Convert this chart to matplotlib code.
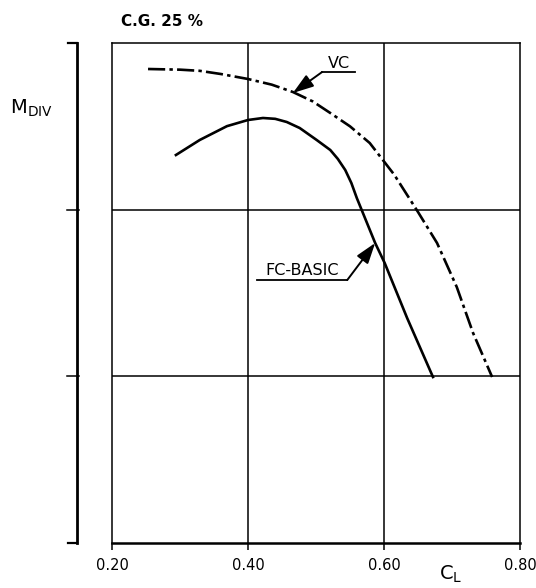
import matplotlib
matplotlib.use("Agg")
import matplotlib.pyplot as plt
from matplotlib.lines import Line2D

plt.rcParams['font.family'] = ['DejaVu Sans']

# Data (y is in grid units: 0 bottom, 3 top)
vc_cl = [0.253, 0.300, 0.329, 0.360, 0.400, 0.435, 0.466, 0.495, 0.521, 0.550, 0.579, 0.615, 0.650, 0.678, 0.707, 0.731, 0.759]
vc_m = [2.844, 2.840, 2.833, 2.814, 2.784, 2.750, 2.706, 2.650, 2.580, 2.500, 2.400, 2.210, 1.986, 1.800, 1.536, 1.260, 0.996]

fc_cl = [0.294, 0.329, 0.369, 0.400, 0.422, 0.440, 0.457, 0.476, 0.501, 0.521, 0.532, 0.543, 0.552, 0.560, 0.587, 0.601, 0.634, 0.672]
fc_m = [2.328, 2.418, 2.501, 2.538, 2.550, 2.545, 2.526, 2.490, 2.418, 2.358, 2.305, 2.238, 2.160, 2.070, 1.800, 1.680, 1.350, 0.996]

x_ticks = [0.20, 0.40, 0.60, 0.80]
x_tick_labels = ["0.20", "0.40", "0.60", "0.80"]
y_grid = [1, 2]

fig = plt.figure(figsize=(5.36, 5.88), dpi=100)
ax = fig.add_axes([112/536, 45/588, 408/536, 500/588])
ax.set_xlim(0.2, 0.8)
ax.set_ylim(0, 3)

for s in ax.spines.values():
    s.set_linewidth(1.1)
ax.spines['bottom'].set_linewidth(1.8)

# grid
for xv in x_ticks[1:-1]:
    ax.axvline(xv, color='black', lw=1.1)
for yv in y_grid:
    ax.axhline(yv, color='black', lw=1.1)

ax.set_xticks(x_ticks)
ax.set_xticklabels(x_tick_labels, fontsize=10.5)
ax.set_yticks([])
ax.tick_params(axis='x', direction='out', length=5, width=1.1, pad=6)

# curves
l1, = ax.plot(vc_cl, vc_m, color='black', lw=1.9, solid_capstyle='butt', dash_capstyle='butt')
l1.set_dashes([6.5, 1.6, 1.3, 1.6])
ax.plot(fc_cl, fc_m, color='black', lw=1.9, solid_joinstyle='round')

# left bracket axis
xb = -0.085
tr = ax.transAxes
ax.add_line(Line2D([xb, xb], [0, 1], transform=tr, color='black', lw=2.0, clip_on=False))
ax.add_line(Line2D([xb - 0.022, xb], [1, 1], transform=tr, color='black', lw=1.6, clip_on=False))
ax.add_line(Line2D([xb - 0.022, xb], [0, 0], transform=tr, color='black', lw=1.6, clip_on=False))
for yy in [1/3, 2/3]:
    ax.add_line(Line2D([xb - 0.025, xb + 0.005], [yy, yy], transform=tr, color='black', lw=1.1, clip_on=False))

# annotations
arrow_kw = dict(arrowstyle='-|>,head_length=0.9,head_width=0.3', color='black',
                lw=1.4, shrinkA=0, shrinkB=0, mutation_scale=14)
ax.text(0.533, 2.835, "VC", fontsize=11.5, ha='center', va='bottom')
ax.add_line(Line2D([0.509, 0.557], [2.826, 2.826], color='black', lw=1.3))
ax.annotate("", xy=(0.466, 2.70), xytext=(0.509, 2.826), arrowprops=arrow_kw)

ax.text(0.479, 1.59, "FC-BASIC", fontsize=11.5, ha='center', va='bottom')
ax.add_line(Line2D([0.413, 0.546], [1.578, 1.578], color='black', lw=1.3))
ax.annotate("", xy=(0.587, 1.80), xytext=(0.546, 1.578), arrowprops=arrow_kw)

# labels
fig.text(121/536, 1 - 22/588, "C.G. 25 %", fontsize=11, ha='left', va='center', fontweight='semibold')
fig.text(10/536, 1 - 108/588, r"M$_{\mathregular{DIV}}$", fontsize=14, ha='left', va='center')
fig.text(439/536, 1 - 574/588, r"C$_{\mathregular{L}}$", fontsize=14, ha='left', va='center')

fig.savefig("out.png", dpi=100)
